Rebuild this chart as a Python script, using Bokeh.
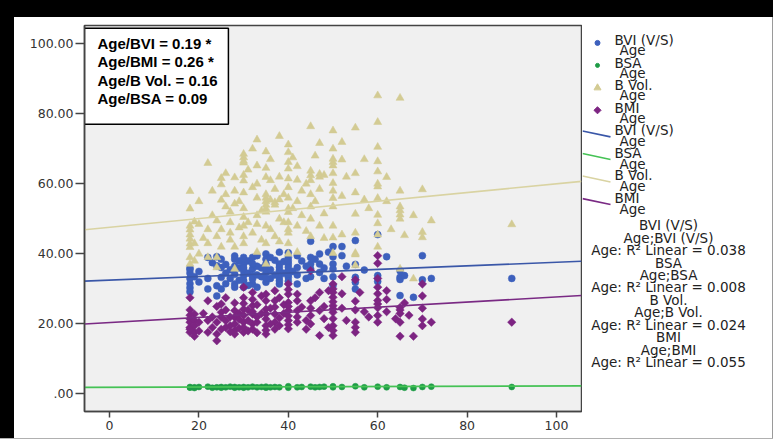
from bokeh.plotting import figure
from bokeh.models import Range1d, FixedTicker, Div
from bokeh.layouts import column, row
from bokeh.embed import file_html
from bokeh.resources import INLINE
from bokeh.core.properties import value
import math

# ---------------- data ----------------
bvi_age = [18, 18, 18, 18, 18, 19, 22, 24, 24, 24, 24, 25, 25, 26, 28, 28, 28, 28, 28, 29,
           30, 30, 30, 30, 30, 31, 32, 32, 32, 32, 33, 35, 35, 35, 35, 36, 38, 38, 38, 38, 38,
           40, 40, 40, 40, 40, 42, 42, 43, 45, 45, 45, 45, 47, 47, 47, 49, 50, 50, 50, 50,
           52, 52, 55, 55, 55, 55, 57, 60, 60, 60, 62, 65, 65, 65, 65, 66, 68, 70, 70, 72, 90,
           18, 18, 20, 20, 22, 22, 23, 25, 25, 26, 26, 27, 27, 28, 29, 29, 30, 30, 31, 31, 32,
           32, 33, 33, 33, 34, 34, 35, 35, 35, 36, 36, 37, 37, 38, 38, 39, 39, 40, 40, 40, 40,
           41, 42, 42, 44, 44, 45, 46, 48, 48, 50, 50, 53, 55]
bvi_val = [34.5, 33.0, 31.5, 30.3, 29.2, 33.5, 39.0, 36.6, 39.2, 30.9, 28.0, 36.1, 33.3, 34.5,
           39.4, 38.5, 34.2, 31.4, 30.5, 36.0, 39.0, 37.1, 35.2, 33.8, 32.4, 34.5, 35.7, 33.8,
           31.4, 39.0, 36.5, 37.1, 34.7, 31.9, 40.0, 33.0, 40.5, 37.1, 35.2, 33.3, 31.4, 39.0,
           37.1, 35.2, 33.3, 40.3, 36.1, 31.4, 38.0, 43.6, 39.0, 37.1, 35.7, 40.0, 37.1, 34.7,
           40.5, 42.1, 39.2, 37.1, 35.7, 42.1, 39.5, 43.8, 33.3, 31.9, 30.0, 35.4, 45.5, 33.8,
           32.1, 39.2, 35.2, 33.3, 32.7, 28.1, 33.8, 27.6, 39.5, 32.6, 33.0, 33.0,
           36.0, 35.5, 32.0, 35.0, 33.0, 30.0, 37.5, 38.5, 30.0, 31.5, 37.0, 35.5, 33.0, 36.5,
           32.5, 38.0, 30.5, 36.0, 38.0, 31.0, 37.2, 32.8, 34.0, 39.5, 30.5, 36.0, 33.5, 38.5,
           36.0, 33.0, 35.5, 39.0, 34.0, 38.2, 36.2, 32.3, 34.5, 37.8, 36.2, 34.1, 32.2, 38.0,
           35.0, 34.0, 39.5, 36.5, 33.0, 33.5, 38.5, 36.0, 33.0, 33.5, 31.0, 36.5, 37.0]

bsa_age = [18, 18, 19, 19, 20, 22, 23, 24, 25, 25, 26, 27, 28, 28, 29, 30, 30, 31, 32, 33, 34,
           35, 35, 36, 37, 38, 40, 40, 42, 43, 45, 46, 47, 48, 50, 50, 52, 55, 57, 60, 62, 65,
           66, 68, 70, 72, 90]
bsa_val = [1.8, 2.0, 1.9, 1.7, 2.0, 2.1, 1.8, 1.9, 2.0, 1.8, 1.9, 2.1, 1.8, 2.0, 1.9, 2.0, 1.8,
           1.9, 2.1, 1.9, 2.0, 1.8, 2.1, 1.9, 2.0, 1.9, 2.2, 1.8, 1.9, 2.0, 2.1, 1.9, 2.0, 2.1,
           2.2, 1.9, 2.0, 2.2, 1.9, 2.1, 1.9, 2.0, 1.8, 1.7, 2.0, 2.1, 2.0]

bvol_age = [18, 18, 18, 18, 18, 18, 18, 18, 19, 20, 22, 22, 24, 24, 25, 25, 25, 25, 26, 27, 27,
            28, 28, 30, 30, 30, 30, 30, 30, 30, 30, 33, 33, 33, 33, 35, 35, 35, 35, 35, 35, 35,
            35, 35, 36, 37, 37, 38, 38, 40, 40, 40, 40, 40, 40, 40, 40, 40, 42, 42, 45, 45, 45,
            45, 45, 47, 47, 47, 50, 50, 50, 50, 50, 50, 50, 50, 50, 52, 52, 55, 55, 55, 55, 55,
            57, 60, 60, 60, 60, 60, 60, 60, 60, 60, 62, 65, 65, 65, 65, 65, 65, 66, 68, 70, 70,
            70, 72, 90,
            18, 18, 19, 19, 20, 20, 21, 22, 22, 23, 23, 24, 24, 25, 26, 26, 27, 27, 28, 28, 28,
            29, 29, 30, 30, 30, 30, 31, 31, 32, 32, 32, 33, 33, 33, 34, 34, 35, 35, 35, 36, 36,
            36, 37, 37, 38, 38, 38, 39, 39, 40, 40, 40, 40, 40, 41, 41, 42, 42, 42, 43, 43, 44,
            44, 45, 45, 45, 46, 46, 47, 47, 48, 48, 48, 50, 50, 50, 50, 52, 52, 53, 55, 55, 55,
            57, 58, 60, 60, 60, 62, 63, 65, 68]
bvol_val = [57.9, 52.9, 46.9, 44.3, 42.9, 41.9, 39.0, 37.1, 49.2, 48.5, 65.9, 39.0, 39.0, 36.1,
            61.6, 59.8, 55.4, 47.0, 53.5, 52.0, 46.0, 54.3, 35.7, 68.5, 67.5, 66.5, 66.0, 60.9,
            50.5, 45.0, 48.0, 72.6, 65.2, 51.0, 40.5, 69.2, 61.9, 57.0, 56.0, 55.0, 54.0, 53.0,
            52.0, 37.1, 55.4, 54.7, 54.0, 73.6, 50.0, 71.2, 69.0, 66.2, 64.3, 52.9, 51.9, 40.0,
            49.0, 47.0, 61.1, 40.5, 76.4, 63.7, 62.4, 61.0, 50.0, 71.6, 62.8, 62.0, 75.2, 67.1,
            66.2, 65.2, 60.2, 55.9, 53.5, 44.6, 40.2, 71.9, 66.9, 76.0, 51.4, 40.2, 39.8, 36.7,
            55.5, 85.2, 77.6, 66.4, 60.0, 59.2, 55.9, 51.1, 48.7, 45.5, 61.9, 84.5, 53.5, 52.4,
            51.2, 50.0, 35.7, 45.3, 32.9, 58.4, 46.2, 44.7, 49.5, 48.4,
            45.5, 48.0, 43.0, 38.0, 55.0, 40.0, 44.5, 47.0, 43.0, 58.0, 51.0, 45.0, 49.5, 42.0,
            57.0, 63.0, 49.0, 44.0, 58.0, 61.8, 42.0, 47.5, 55.0, 53.0, 57.5, 43.0, 62.5, 49.0,
            64.0, 59.0, 46.0, 70.0, 56.0, 48.5, 60.0, 52.3, 44.0, 64.5, 48.0, 43.0, 61.0, 47.0,
            67.0, 58.5, 45.0, 62.0, 55.5, 43.5, 49.0, 57.0, 59.0, 56.0, 46.0, 61.5, 43.0, 53.0,
            67.5, 55.0, 48.0, 65.0, 51.0, 58.0, 46.5, 60.0, 57.0, 53.5, 45.0, 68.0, 55.0, 48.0,
            58.5, 51.5, 62.5, 44.5, 58.0, 48.0, 70.0, 63.0, 56.5, 45.5, 62.0, 63.0, 57.5, 46.0,
            67.0, 53.0, 70.5, 63.5, 42.0, 55.0, 47.0, 58.0, 51.0]

bmi_age = [18, 18, 18, 18, 18, 19, 19, 19, 19, 22, 22, 24, 24, 25, 25, 25, 26, 26, 28, 28, 28,
           28, 30, 30, 30, 30, 30, 32, 32, 32, 32, 35, 35, 35, 35, 35, 37, 37, 37, 37, 40, 40,
           40, 40, 40, 40, 42, 42, 42, 45, 45, 45, 47, 47, 47, 49, 49, 50, 50, 50, 50, 50, 50,
           50, 50, 50, 50, 52, 52, 55, 55, 55, 55, 57, 60, 60, 60, 60, 60, 60, 60, 60, 62, 65,
           65, 65, 65, 65, 68, 70, 70, 70, 72, 90,
           18, 18, 18, 19, 20, 20, 21, 22, 23, 23, 24, 24, 25, 26, 26, 27, 27, 27, 28, 28, 29,
           29, 29, 30, 30, 30, 31, 31, 31, 32, 32, 32, 33, 33, 33, 33, 34, 34, 35, 35, 35, 36,
           36, 37, 37, 38, 38, 38, 39, 39, 40, 40, 40, 40, 42, 42, 43, 44, 44, 45, 45, 46, 48,
           48, 50, 50, 52, 53, 55, 55, 56, 58, 60, 60, 62, 62, 64, 66, 67, 70, 70]
bmi_val = [27.5, 21.4, 20.5, 19.0, 17.6, 21.0, 17.6, 16.5, 22.8, 26.6, 17.6, 17.1, 15.2, 25.7,
           23.3, 21.9, 20.9, 19.0, 23.8, 21.9, 18.1, 17.1, 30.5, 27.5, 24.2, 20.5, 17.6, 29.0,
           25.2, 22.8, 20.0, 26.6, 24.2, 21.4, 19.5, 17.1, 29.5, 26.6, 22.8, 20.5, 31.4, 28.5,
           26.1, 23.8, 21.0, 18.6, 26.6, 23.8, 20.5, 35.2, 26.6, 22.4, 29.0, 23.8, 16.7, 29.5,
           19.0, 31.4, 30.0, 29.0, 27.6, 25.2, 24.3, 23.3, 19.5, 18.1, 16.7, 33.5, 28.6, 32.6,
           20.5, 19.0, 17.6, 23.5, 39.5, 37.3, 28.6, 26.7, 25.7, 24.6, 22.4, 20.5, 29.5, 24.7,
           24.0, 23.0, 20.5, 16.5, 16.5, 31.4, 21.4, 19.5, 20.5, 20.5,
           24.0, 22.5, 18.5, 19.5, 20.5, 18.0, 23.0, 21.0, 19.0, 22.0, 20.5, 25.0, 18.5, 24.0,
           27.5, 22.0, 19.5, 17.8, 26.0, 20.0, 23.0, 18.8, 21.3, 22.5, 19.0, 25.8, 21.0, 24.0,
           18.0, 27.0, 18.5, 23.5, 20.5, 25.5, 17.5, 22.0, 23.0, 28.0, 22.8, 18.2, 28.5, 20.0,
           24.5, 18.5, 24.8, 21.7, 27.5, 19.5, 23.0, 25.5, 22.3, 19.8, 25.0, 29.8, 22.0, 28.5,
           24.8, 21.0, 18.5, 24.5, 20.0, 27.5, 25.0, 21.5, 21.5, 26.3, 24.5, 21.0, 26.5, 24.0,
           29.0, 22.0, 30.5, 33.0, 23.5, 27.0, 21.5, 26.0, 22.5, 24.5, 28.0]

series_names = ["BVI (V/S)", "BSA", "B Vol.", "BMI"]
fit_intercept = [32.5, 1.9, 47.6, 20.4]
fit_slope = [0.051, 0.004, 0.124, 0.073]
r2_values = ["0.038", "0.008", "0.024", "0.055"]
corr_lines = ["Age/BVI = 0.19 *", "Age/BMI = 0.26 *", "Age/B Vol. = 0.16", "Age/BSA = 0.09"]

x_ticks = [0, 20, 40, 60, 80, 100]
y_ticks = [0, 20, 40, 60, 80, 100]
y_tick_labels = [".00", "20.00", "40.00", "60.00", "80.00", "100.00"]

# ---------------- styles ----------------
pt_colors = ["#3d60bd", "#1e9c46", "#d3cb93", "#7d2482"]
ln_colors = ["#3a57a8", "#45c255", "#d9d3a2", "#7a2a84"]
markers = ["circle", "circle", "triangle", "square"]
sizes = [7, 6, 8, 6]
angles = [0, 0, 0, math.pi / 4]
TXT = "#222222"
XMIN, XMAX = -5.6, 105.6
YMIN, YMAX = -5.0, 105.2

# ---------------- main plot ----------------
p = figure(width=568, height=421, x_range=Range1d(XMIN, XMAX), y_range=Range1d(YMIN, YMAX),
           output_backend="svg", toolbar_location=None,
           min_border_left=70, min_border_right=1, min_border_top=8, min_border_bottom=27)
p.background_fill_color = "#f0f0f0"
p.border_fill_color = "white"
p.outline_line_color = "#444444"
p.outline_line_width = 1.5
p.grid.visible = False

for ax in (p.xaxis[0], p.yaxis[0]):
    ax.axis_line_color = "#444444"
    ax.axis_line_width = 1.5
    ax.major_tick_line_color = "#444444"
    ax.major_tick_line_width = 1.5
    ax.minor_tick_line_color = None
    ax.major_tick_in = 0
    ax.major_label_text_font = "DejaVu Sans"
    ax.major_label_text_font_size = "12.5px"
    ax.major_label_text_color = "#333333"
p.xaxis.ticker = FixedTicker(ticks=x_ticks)
p.yaxis.ticker = FixedTicker(ticks=y_ticks)
p.yaxis.major_label_overrides = {t: lab for t, lab in zip(y_ticks, y_tick_labels)}
p.xaxis.major_tick_out = 6
p.yaxis.major_tick_out = 9
p.xaxis.major_label_standoff = 3
p.yaxis.major_label_standoff = 2

ages = [bvi_age, bsa_age, bvol_age, bmi_age]
vals = [bvi_val, bsa_val, bvol_val, bmi_val]
for i in range(4):
    p.scatter(ages[i], vals[i], marker=markers[i], size=sizes[i], angle=angles[i],
              fill_color=pt_colors[i], line_color=pt_colors[i], line_width=0.5)

for i in range(4):
    xs = [XMIN, XMAX]
    ys = [fit_intercept[i] + fit_slope[i] * x for x in xs]
    p.line(xs, ys, line_color=ln_colors[i], line_width=1.6)

# correlation box
p.quad(left=[XMIN], right=[26.6], bottom=[77.0], top=[104.4],
       fill_color="white", line_color="black", line_width=1.5)
p.text(x=[-2.7] * 4, y=[100.1, 94.8, 89.5, 84.3], text=corr_lines,
       text_font=value("Liberation Sans"), text_font_style="bold", text_font_size="15px",
       text_color="black", text_baseline="middle", text_align="left")

# ---------------- legend panel ----------------
lg = figure(width=190, height=421, x_range=Range1d(582, 772), y_range=Range1d(438, 17),
            output_backend="svg", toolbar_location=None, x_axis_type=None, y_axis_type=None,
            min_border_left=0, min_border_right=0, min_border_top=0, min_border_bottom=0)
lg.grid.visible = False
lg.outline_line_color = None
lg.background_fill_color = "white"
lg.border_fill_color = "white"

FS = "13.5px"
leg_sizes = [5, 4, 7, 5]
for i in range(4):
    y1 = 33 + 24.5 * i
    lg.scatter([597], [y1 + 3], marker=markers[i], size=leg_sizes[i], angle=angles[i],
               fill_color=pt_colors[i], line_color=pt_colors[i])
    lg.text([614], [y1], text=[series_names[i]], text_font=value("DejaVu Sans"),
            text_font_size=FS, text_color=TXT, text_baseline="middle")
    lg.text([619], [y1 + 11], text=["Age"], text_font=value("DejaVu Sans"),
            text_font_size=FS, text_color=TXT, text_baseline="middle")

for i in range(4):
    y1 = 131 + 24.6 * i
    lg.line([582, 610], [y1 + 1, y1 + 7.5], line_color=ln_colors[i], line_width=1.6)
    lg.text([614], [y1], text=[series_names[i]], text_font=value("DejaVu Sans"),
            text_font_size=FS, text_color=TXT, text_baseline="middle")
    lg.text([619], [y1 + 12], text=["Age"], text_font=value("DejaVu Sans"),
            text_font_size=FS, text_color=TXT, text_baseline="middle")

r2_texts = []
for i in range(4):
    r2_texts += [series_names[i], "Age;" + series_names[i], "Age: R\u00b2 Linear = " + r2_values[i]]
r2_y = [235 + 13.55 * k for k in range(len(r2_texts))]
lg.text([668] * len(r2_texts), r2_y, text=r2_texts, text_font=value("DejaVu Sans"),
        text_font_size=FS, text_color=TXT, text_baseline="middle", text_align="center")

# ---------------- frame of the page ----------------
top_band = Div(text="", width=773, height=17, margin=0, styles={"background-color": "black"})
left_band = Div(text="", width=14, height=421, margin=0, styles={"background-color": "black"})
right_line = Div(text="", width=1, height=421, margin=0, styles={"background-color": "#9a9a9a"})
bottom_line = Div(text="", width=773, height=1, margin=0, styles={"background-color": "#b0b0b0"})

layout = column(top_band, row(left_band, p, lg, right_line, spacing=0), bottom_line, spacing=0)

open("out.html", "w").write(file_html(layout, INLINE))
